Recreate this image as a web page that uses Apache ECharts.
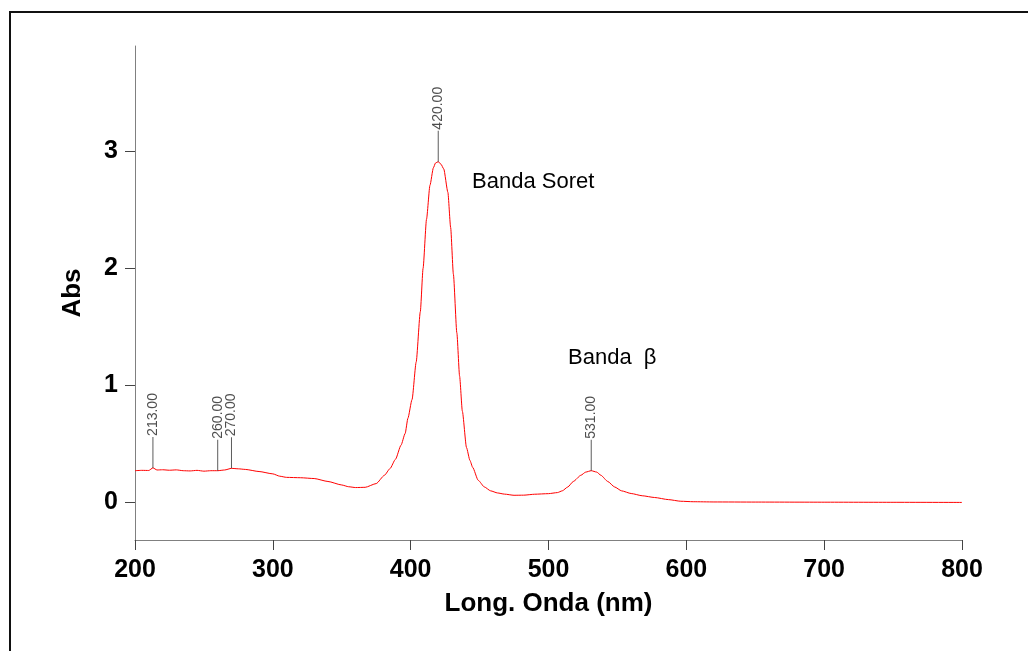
<!DOCTYPE html>
<html>
<head>
<meta charset="utf-8">
<script src="https://cdn.jsdelivr.net/npm/echarts@6/dist/echarts.min.js"></script>
<style>
    html, body { margin: 0; padding: 0; background: #fff; }
    #chart { width: 1028px; height: 651px; }
</style>
</head>
<body>
<div id="chart"></div>
<script>
// espectro UV-Vis
var wavelengths = [200, 205, 210, 213, 216, 220, 225, 230, 235, 240, 245, 250, 255, 260, 265, 270, 275, 280, 290, 300,
    305, 310, 320, 330, 340, 350, 355, 360, 367, 375, 381, 385, 389, 393, 396, 398, 401, 404, 407, 409,
    411.5, 414, 416.5, 418, 420, 422, 424, 427, 429, 431, 433.5, 435.5, 437.5, 440.5, 443, 445, 449, 453.5, 458, 463,
    468, 475, 482, 490, 500, 506.5, 510, 514, 518, 523.5, 527, 531, 535, 538, 543, 548, 553, 560, 568, 577,
    587, 596, 605, 620, 650, 700, 750, 800];
var absValues = [0.272, 0.275, 0.274, 0.296, 0.278, 0.280, 0.276, 0.279, 0.272, 0.270, 0.275, 0.268, 0.272, 0.272, 0.278, 0.292, 0.288, 0.283, 0.265, 0.245,
    0.225, 0.215, 0.212, 0.205, 0.180, 0.150, 0.135, 0.128, 0.130, 0.162, 0.233, 0.290, 0.370, 0.490, 0.590, 0.720, 0.880, 1.200, 1.630, 2.000,
    2.420, 2.710, 2.860, 2.900, 2.912, 2.890, 2.850, 2.650, 2.350, 1.950, 1.450, 1.080, 0.780, 0.470, 0.360, 0.300, 0.190, 0.133, 0.100, 0.082,
    0.072, 0.062, 0.063, 0.071, 0.076, 0.085, 0.100, 0.133, 0.180, 0.233, 0.260, 0.272, 0.260, 0.233, 0.180, 0.133, 0.100, 0.077, 0.058, 0.043,
    0.025, 0.011, 0.007, 0.005, 0.004, 0.003, 0.002, 0.001];

// picos marcados
var peakWavelengths = [213, 260, 270, 420, 531];

var xTicks = [200, 300, 400, 500, 600, 700, 800];
var yTicks = [0, 1, 2, 3];

var chart = echarts.init(document.getElementById('chart'));

var lineData = wavelengths.map(function (w, i) {
    return [w, absValues[i]];
});

var peakData = peakWavelengths.map(function (w) {
    return [w, absValues[wavelengths.indexOf(w)]];
});

var boldLabel = {
    color: '#000',
    fontFamily: 'Liberation Sans, Arial, sans-serif',
    fontWeight: 'bold',
    fontSize: 25
};

var nameStyle = {
    color: '#000',
    fontFamily: 'Liberation Sans, Arial, sans-serif',
    fontWeight: 'bold',
    fontSize: 26
};

var option = {
    backgroundColor: '#fff',
    animation: false,
    grid: {
        left: 135,
        right: 66,
        top: 46,
        bottom: 111
    },
    xAxis: {
        type: 'value',
        min: 200,
        max: 800,
        interval: 100,
        name: 'Long. Onda (nm)',
        nameLocation: 'middle',
        nameGap: 51,
        nameTextStyle: nameStyle,
        axisLine: { show: true, onZero: false, lineStyle: { color: '#808080', width: 1 } },
        axisTick: { show: true, inside: false, length: 10, lineStyle: { color: '#444' } },
        axisLabel: Object.assign({ margin: 18, customValues: xTicks }, boldLabel),
        splitLine: { show: false }
    },
    yAxis: {
        type: 'value',
        min: -0.32,
        max: 3.9,
        name: 'Abs',
        nameLocation: 'middle',
        nameGap: 49,
        nameTextStyle: nameStyle,
        axisLine: { show: true, onZero: false, lineStyle: { color: '#808080', width: 1 } },
        axisTick: { show: true, inside: false, length: 10, customValues: yTicks, lineStyle: { color: '#444' } },
        axisLabel: Object.assign({ margin: 17, customValues: yTicks }, boldLabel),
        splitLine: { show: false }
    },
    graphic: [
        {
            type: 'rect',
            shape: { x: 10, y: 12, width: 1100, height: 700 },
            style: { fill: null, stroke: '#111', lineWidth: 2 },
            silent: true
        },
        {
            type: 'text',
            left: 472,
            top: 171,
            style: {
                text: 'Banda Soret',
                fill: '#000',
                font: '22px Liberation Sans, Arial, sans-serif'
            }
        },
        {
            type: 'text',
            left: 568,
            top: 347,
            style: {
                text: 'Banda  β',
                fill: '#000',
                font: '22px Liberation Sans, Arial, sans-serif'
            }
        }
    ],
    series: [
        {
            name: 'Abs',
            type: 'line',
            data: lineData,
            showSymbol: false,
            symbol: 'none',
            sampling: null,
            smooth: 0.2,
            smoothMonotone: 'x',
            lineStyle: { color: '#ff0000', width: 1 },
            emphasis: { disabled: true },
            silent: true
        },
        {
            name: 'picos',
            type: 'scatter',
            data: peakData,
            symbol: 'rect',
            symbolSize: [1, 31],
            symbolOffset: [0, -15.5],
            itemStyle: { color: '#333' },
            label: {
                show: true,
                position: 'top',
                distance: 1,
                rotate: 90,
                align: 'left',
                verticalAlign: 'middle',
                color: '#222',
                fontFamily: 'Liberation Sans, Arial, sans-serif',
                fontSize: 14,
                formatter: function (p) {
                    return p.value[0].toFixed(2);
                }
            },
            emphasis: { disabled: true },
            silent: true,
            z: 3
        }
    ]
};

chart.setOption(option);
</script>
</body>
</html>
